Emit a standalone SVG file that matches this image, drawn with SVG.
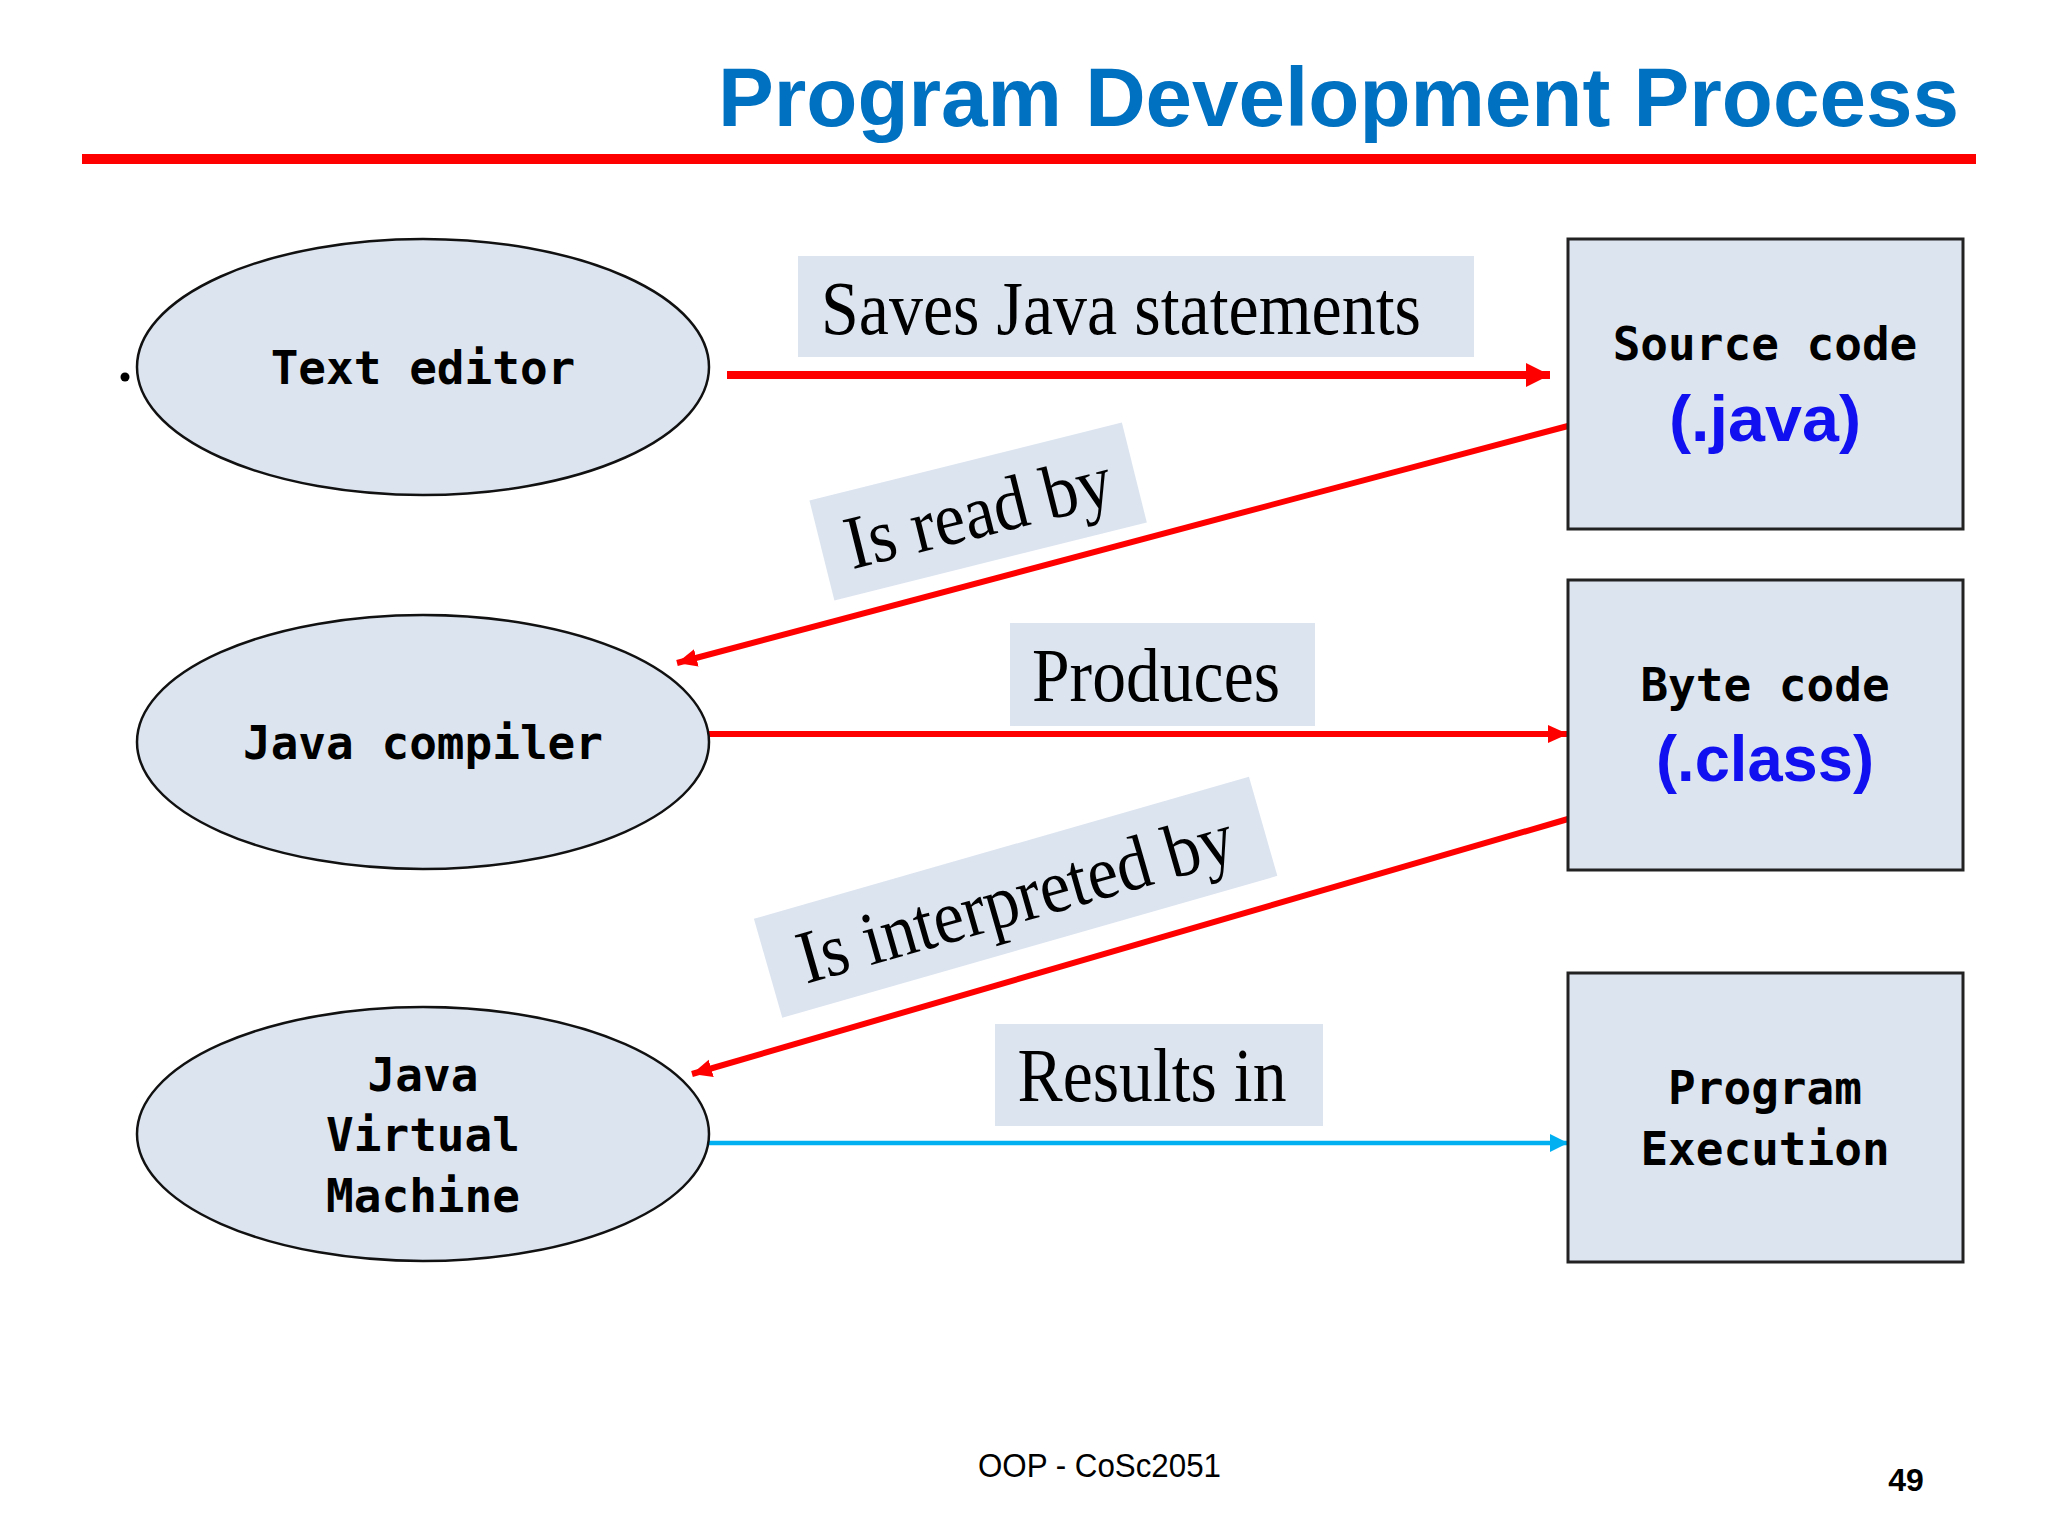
<svg xmlns="http://www.w3.org/2000/svg" width="2048" height="1536" viewBox="0 0 2048 1536">
<defs>
<style>
.node{fill:#DCE4F0;stroke:#111;stroke-width:2.5}
.box{fill:#DCE4F0;stroke:#222;stroke-width:3}
.mono{font-family:"DejaVu Sans Mono","Liberation Mono",monospace;font-weight:bold;font-size:46px;fill:#000;text-anchor:middle}
.ext{font-family:"Liberation Sans","DejaVu Sans",sans-serif;font-weight:bold;font-size:64px;fill:#1010F0;text-anchor:middle}
.lbg{fill:#DCE4F0}
.lbl{font-family:"Liberation Serif","Times New Roman",serif;font-size:76px;fill:#000;text-anchor:middle}
.red{stroke:#FF0000;fill:none}
</style>
<marker id="ahBig" markerUnits="userSpaceOnUse" markerWidth="26" markerHeight="24" refX="24" refY="12" orient="auto">
<path d="M0,0 L24,12 L0,24 Z" fill="#FF0000"/>
</marker>
<marker id="ahRed" markerUnits="userSpaceOnUse" markerWidth="22" markerHeight="20" refX="20" refY="9" orient="auto">
<path d="M0,0 L20,9 L0,18 Z" fill="#FF0000"/>
</marker>
<marker id="ahBlue" markerUnits="userSpaceOnUse" markerWidth="22" markerHeight="20" refX="18" refY="9" orient="auto">
<path d="M0,0 L18,9 L0,18 Z" fill="#00B0F0"/>
</marker>
</defs>
<rect width="2048" height="1536" fill="#FFFFFF"/>

<g id="title">
<text x="718" y="126" font-family="'Liberation Sans','DejaVu Sans',sans-serif" font-weight="bold" font-size="84" fill="#0070C0" textLength="1241" lengthAdjust="spacingAndGlyphs">Program Development Process</text>
<rect x="82" y="154" width="1894" height="10" fill="#FF0000"/>
</g>

<g id="connectors">
<line class="red" x1="727" y1="375" x2="1550" y2="375" stroke-width="8" marker-end="url(#ahBig)"/>
<line class="red" x1="1568" y1="426" x2="677" y2="663" stroke-width="6" marker-end="url(#ahRed)"/>
<line class="red" x1="709" y1="734" x2="1568" y2="734" stroke-width="6" marker-end="url(#ahRed)"/>
<line class="red" x1="1568" y1="819" x2="692" y2="1074" stroke-width="6" marker-end="url(#ahRed)"/>
<line x1="709" y1="1143" x2="1568" y2="1143" stroke="#00B0F0" stroke-width="4.5" marker-end="url(#ahBlue)"/>
</g>

<g id="label-saves">
<rect class="lbg" x="798" y="256" width="676" height="101"/>
<text class="lbl" x="1121" y="334" textLength="600" lengthAdjust="spacingAndGlyphs">Saves Java statements</text>
</g>
<g id="label-readby" transform="translate(978,511) rotate(-14)">
<rect class="lbg" x="-161" y="-51" width="322" height="103"/>
<text class="lbl" x="0" y="26" textLength="272" lengthAdjust="spacingAndGlyphs">Is read by</text>
</g>
<g id="label-produces">
<rect class="lbg" x="1010" y="623" width="305" height="103"/>
<text class="lbl" x="1156" y="701" textLength="248" lengthAdjust="spacingAndGlyphs">Produces</text>
</g>
<g id="label-interpreted" transform="translate(1015,897) rotate(-16)">
<rect class="lbg" x="-257" y="-51" width="515" height="103"/>
<text class="lbl" x="0" y="26" textLength="450" lengthAdjust="spacingAndGlyphs">Is interpreted by</text>
</g>
<g id="label-results">
<rect class="lbg" x="995" y="1024" width="328" height="102"/>
<text class="lbl" x="1152" y="1101" textLength="269" lengthAdjust="spacingAndGlyphs">Results in</text>
</g>

<g id="node-text-editor">
<circle cx="125" cy="377" r="4.5" fill="#000"/>
<ellipse class="node" cx="423" cy="367" rx="286" ry="128"/>
<text class="mono" x="423" y="384">Text editor</text>
</g>
<g id="node-java-compiler">
<ellipse class="node" cx="423" cy="742" rx="286" ry="127"/>
<text class="mono" x="423" y="759">Java compiler</text>
</g>
<g id="node-jvm">
<ellipse class="node" cx="423" cy="1134" rx="286" ry="127"/>
<text class="mono" x="423" y="1091">Java</text>
<text class="mono" x="423" y="1151">Virtual</text>
<text class="mono" x="423" y="1212">Machine</text>
</g>

<g id="node-source-code">
<rect class="box" x="1568" y="239" width="395" height="290"/>
<text class="mono" x="1765" y="360">Source code</text>
<text class="ext" x="1765" y="441" textLength="192" lengthAdjust="spacingAndGlyphs">(.java)</text>
</g>
<g id="node-byte-code">
<rect class="box" x="1568" y="580" width="395" height="290"/>
<text class="mono" x="1765" y="701">Byte code</text>
<text class="ext" x="1765" y="781" textLength="218" lengthAdjust="spacingAndGlyphs">(.class)</text>
</g>
<g id="node-program-execution">
<rect class="box" x="1568" y="973" width="395" height="289"/>
<text class="mono" x="1765" y="1104">Program</text>
<text class="mono" x="1765" y="1165">Execution</text>
</g>

<g id="footer">
<text x="978" y="1477" font-family="'Liberation Sans','DejaVu Sans',sans-serif" font-size="34" fill="#000" textLength="243" lengthAdjust="spacingAndGlyphs">OOP - CoSc2051</text>
<text x="1906" y="1491" font-family="'Liberation Sans','DejaVu Sans',sans-serif" font-weight="bold" font-size="32" fill="#000" text-anchor="middle">49</text>
</g>
</svg>
